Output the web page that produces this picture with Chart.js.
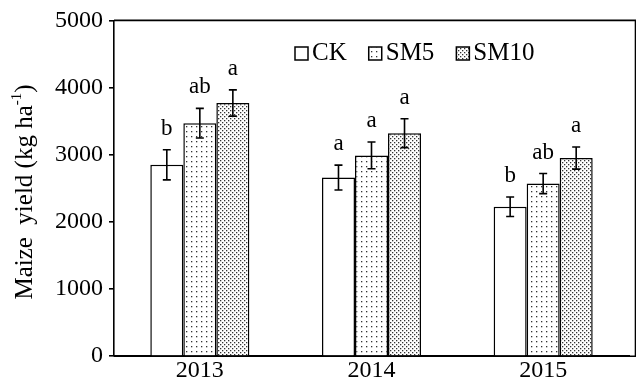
<!DOCTYPE html>
<html>
<head>
<meta charset="utf-8">
<script src="https://cdn.jsdelivr.net/npm/chart.js@4.4.1/dist/chart.umd.min.js"></script>
<style>
  html, body { margin: 0; padding: 0; background: #fff; }
  #wrap { width: 636px; height: 385px; position: relative; }
</style>
</head>
<body>
<div id="wrap"><canvas id="chart"></canvas></div>
<script>
// --- Data ---
const years = ['2013', '2014', '2015'];
const treatments = ['CK', 'SM5', 'SM10'];
const ckYield = [2850, 2660, 2225];
const sm5Yield = [3470, 2990, 2570];
const sm10Yield = [3770, 3320, 2950];
const ckErr = [225, 185, 145];
const sm5Err = [220, 200, 150];
const sm10Err = [195, 215, 165];
const ckLetters = ['b', 'a', 'b'];
const sm5Letters = ['ab', 'a', 'ab'];
const sm10Letters = ['a', 'a', 'a'];
const yTicks = [0, 1000, 2000, 3000, 4000, 5000];

const SERIF = '"Liberation Serif", "Times New Roman", serif';

// --- Fill patterns ---
function makePattern(size, dots, color) {
    const c = document.createElement('canvas');
    c.width = size; c.height = size;
    const g = c.getContext('2d');
    g.fillStyle = '#fff';
    g.fillRect(0, 0, size, size);
    g.fillStyle = color;
    dots.forEach(d => g.fillRect(d[0], d[1], d[2] || 1, d[2] || 1));
    return g.createPattern(c, 'repeat');
}

const ctx = document.getElementById('chart').getContext('2d');
const fills = [
    '#ffffff',
    makePattern(5, [[1, 1, 1.3]], '#333'),
    makePattern(4, [[0, 0, 1.3], [2, 2, 1.3]], '#333')
];
const values = [ckYield, sm5Yield, sm10Yield];
const errors = [ckErr, sm5Err, sm10Err];
const letters = [ckLetters, sm5Letters, sm10Letters];

// --- Plugins ---
const errorBars = {
    id: 'errorBars',
    afterDatasetsDraw(chart) {
        const c = chart.ctx;
        const y = chart.scales.y;
        c.save();
        c.strokeStyle = '#000';
        c.lineWidth = 1.6;
        c.fillStyle = '#000';
        c.font = '23px ' + SERIF;
        c.textAlign = 'center';
        c.textBaseline = 'middle';
        chart.data.datasets.forEach((ds, i) => {
            chart.getDatasetMeta(i).data.forEach((bar, j) => {
                const v = ds.data[j];
                const e = errors[i][j];
                const top = y.getPixelForValue(v + e);
                const bot = y.getPixelForValue(v - e);
                const x = bar.x;
                c.beginPath();
                c.moveTo(x, top); c.lineTo(x, bot);
                c.moveTo(x - 4, top); c.lineTo(x + 4, top);
                c.moveTo(x - 4, bot); c.lineTo(x + 4, bot);
                c.stroke();
                c.fillText(letters[i][j], x, top - 21);
            });
        });
        c.restore();
    }
};

const frameAndTitle = {
    id: 'frameAndTitle',
    afterDraw(chart) {
        const c = chart.ctx;
        const a = chart.chartArea;
        c.save();
        // plot frame
        c.strokeStyle = '#000';
        c.lineWidth = 1.6;
        c.beginPath();
        c.moveTo(a.left, a.top); c.lineTo(chart.width - 0.5, a.top);
        c.lineTo(chart.width - 0.5, a.bottom);
        c.moveTo(a.left, a.bottom); c.lineTo(chart.width, a.bottom);
        c.stroke();

        // y title with superscript
        c.fillStyle = '#000';
        c.translate(23, 192);
        c.rotate(-Math.PI / 2);
        const main = 'Maize  yield (kg ha';
        const sup = '-1';
        const end = ')';
        c.font = '25px ' + SERIF;
        const w1 = c.measureText(main).width;
        const w3 = c.measureText(end).width;
        c.font = '15px ' + SERIF;
        const w2 = c.measureText(sup).width;
        let x = -(w1 + w2 + w3) / 2;
        c.textBaseline = 'alphabetic';
        c.textAlign = 'left';
        c.font = '25px ' + SERIF;
        c.fillText(main, x, 9);
        x += w1;
        c.font = '15px ' + SERIF;
        c.fillText(sup, x, -2);
        x += w2;
        c.font = '25px ' + SERIF;
        c.fillText(end, x, 9);
        c.restore();

        // legend
        c.save();
        let lx = 295;
        c.font = '25px ' + SERIF;
        c.textBaseline = 'middle';
        c.textAlign = 'left';
        chart.data.datasets.forEach((ds) => {
            c.fillStyle = ds.backgroundColor;
            c.fillRect(lx, 47, 13, 13);
            c.strokeStyle = '#000';
            c.lineWidth = 1.5;
            c.strokeRect(lx, 47, 13, 13);
            c.fillStyle = '#000';
            c.fillText(ds.label, lx + 17, 53);
            lx += 17 + c.measureText(ds.label).width + 22;
        });
        c.restore();
    }
};

// --- Chart ---
new Chart(ctx, {
    type: 'bar',
    data: {
        labels: years,
        datasets: treatments.map((t, i) => ({
            label: t,
            data: values[i],
            backgroundColor: fills[i],
            borderColor: '#000',
            borderWidth: 1.5,
            borderSkipped: 'bottom',
            categoryPercentage: 0.577,
            barPercentage: 1.0
        }))
    },
    options: {
        responsive: true,
        maintainAspectRatio: false,
        animation: false,
        layout: { padding: { top: 20, right: 7, left: 0, bottom: 0 } },
        plugins: {
            legend: { display: false },
            tooltip: { enabled: false }
        },
        scales: {
            x: {
                grid: { display: false, drawTicks: false },
                border: { display: true, color: '#000', width: 1.6 },
                ticks: {
                    color: '#000',
                    font: { family: SERIF, size: 24 },
                    padding: 0
                }
            },
            y: {
                min: 0,
                max: 5000,
                afterFit: (scale) => { scale.width = 114; },
                afterBuildTicks: (scale) => { scale.ticks = yTicks.map(v => ({ value: v })); },
                grid: { drawOnChartArea: false, drawTicks: true, tickLength: 5, color: '#000', lineWidth: 1.6 },
                border: { display: true, color: '#000', width: 1.6 },
                ticks: {
                    color: '#000',
                    font: { family: SERIF, size: 24 },
                    padding: 6,
                    callback: (v) => String(v)
                }
            }
        }
    },
    plugins: [errorBars, frameAndTitle]
});
</script>
</body>
</html>
